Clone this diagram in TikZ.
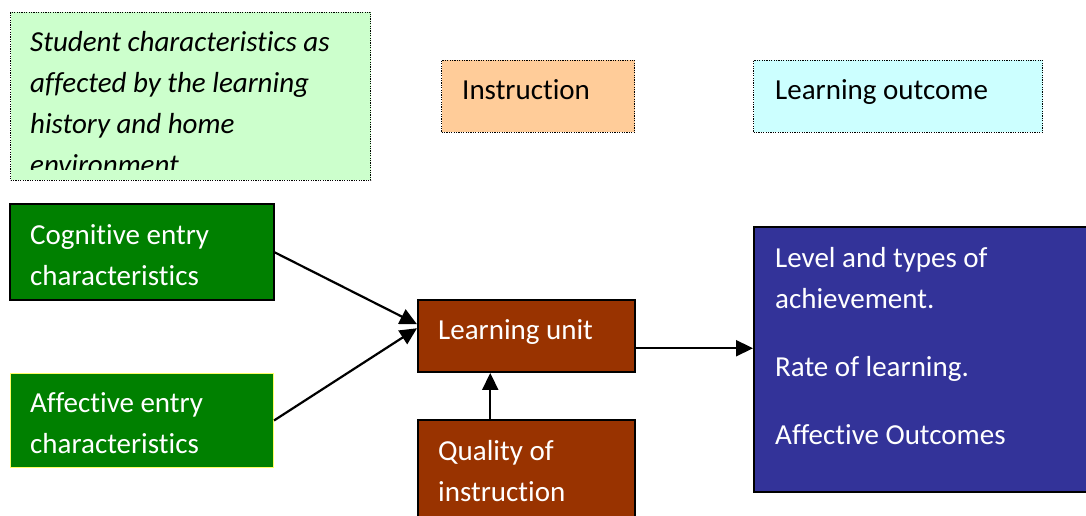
\documentclass[tikz,border=0pt]{standalone}
\usepackage{fontspec}
\setmainfont{Carlito}[Ligatures=NoCommon]
\usetikzlibrary{arrows.meta,calc}
\definecolor{lgreen}{HTML}{CCFFCC}
\definecolor{lorange}{HTML}{FFCC99}
\definecolor{lcyan}{HTML}{CCFFFF}
\definecolor{dgreen}{HTML}{008000}
\definecolor{brown}{HTML}{993300}
\definecolor{navy}{HTML}{333399}
\definecolor{lyellow}{HTML}{FFFF66}
\tikzset{
  x=1pt,y=1pt,
  box/.style={rectangle,inner sep=0pt,anchor=south west,line width=1.5pt},
  dotbox/.style={rectangle,inner sep=0pt,anchor=south west,draw=black,dash pattern=on 1.2pt off 1.2pt,line width=1.3pt},
  txt/.style={inner sep=0pt,anchor=base west,align=left,font=\fontsize{29}{41}\selectfont},
  wtxt/.style={txt,text=white},
  arr/.style={line width=2.2pt,-{Triangle[length=17pt,width=16pt]}}
}
\begin{document}
\begin{tikzpicture}
\useasboundingbox (0,0) rectangle (1086,516);
% legend boxes
\node[dotbox,fill=lgreen,minimum width=360,minimum height=168] (stud) at (10,335) {};
\begin{scope}
\clip (12,346) rectangle (368,500);
\node[txt,font=\fontsize{29}{41}\selectfont\itshape] (studt) at (30,341) {Student characteristics as\\affected by the learning\\history and home\\environment};
\end{scope}
\node[dotbox,fill=lorange,minimum width=193,minimum height=72] (instr) at (441,383) {};
\node[txt] (instrt) at (462,416) {Instruction};
\node[dotbox,fill=lcyan,minimum width=289,minimum height=72] (lout) at (753,383) {};
\node[txt] (loutt) at (775,416) {Learning outcome};
% main boxes
\node[box,draw=black,fill=dgreen,minimum width=264,minimum height=96] (cog) at (9,215) {};
\node[wtxt] (cogt) at (30,230) {Cognitive entry\\characteristics};
\node[box,draw=lyellow,line width=1pt,fill=dgreen,minimum width=263,minimum height=94] (aff) at (10,48) {};
\node[wtxt] (afft) at (30,62) {Affective entry\\characteristics};
\node[box,draw=black,fill=brown,minimum width=217,minimum height=72] (lu) at (417,143) {};
\node[wtxt] (lut) at (438,176) {Learning unit};
\node[box,draw=black,fill=brown,minimum width=217,minimum height=110] (qual) at (417,-15) {};
\node[wtxt] (qualt) at (438,14) {Quality of\\instruction};
\node[box,draw=black,fill=navy,minimum width=345,minimum height=265] (blue) at (753,23) {};
\node[wtxt] (bluet1) at (775,207) {Level and types of\\achievement.};
\node[wtxt] (bluet2) at (775,139) {Rate of learning.};
\node[wtxt] (bluet3) at (775,71) {Affective Outcomes};
% connectors
\coordinate (cogin) at ($(lu.west)+(0,12)$);
\coordinate (affin) at ($(lu.west)+(0,8)$);
\coordinate (luout) at ($(lu.east)+(0,-12)$);
\coordinate (qout) at ($(qual.north)+(-36,0)$);
\draw[arr] (cog.east) -- (cogin);
\draw[arr] (aff.east) -- (affin);
\draw[arr] (luout) -- (luout -| blue.west);
\draw[arr] (qout) -- (qout |- lu.south);
\end{tikzpicture}
\end{document}
